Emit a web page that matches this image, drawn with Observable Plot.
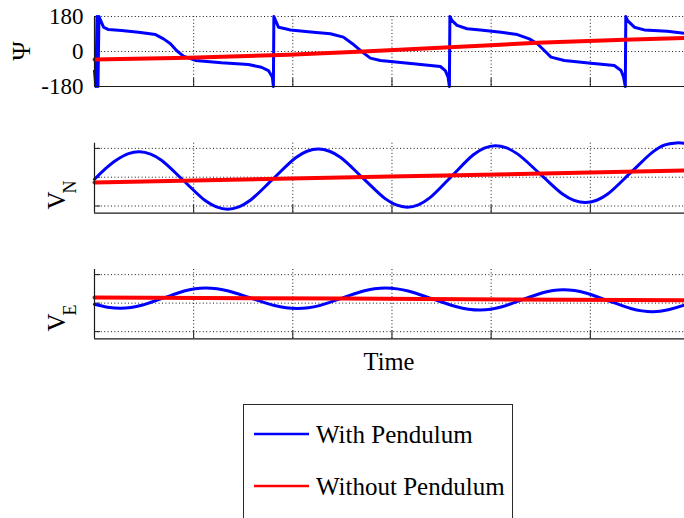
<!DOCTYPE html>
<html>
<head>
<meta charset="utf-8">
<script src="https://cdn.jsdelivr.net/npm/d3@7"></script>
<script src="https://cdn.jsdelivr.net/npm/@observablehq/plot@0.6"></script>
<style>
  html, body { margin: 0; padding: 0; background: #fff; }
  #wrap { position: relative; width: 684px; height: 518px; overflow: hidden; background: #fff; }
  #wrap svg { position: absolute; left: 0; }
  #wrap text, #wrap tspan { font-family: Liberation Serif, "Times New Roman", Tinos, DejaVu Serif, serif !important; }
  #legend { position: absolute; left: 243px; top: 404px; width: 268px; height: 130px;
            border: 1px solid #2a2a2a; background: #fff; }
  #legend svg { position: absolute; left: 0; top: 0; }
</style>
</head>
<body>
<div id="wrap"></div>
<script>
// ---------- data (time in tick units) ----------
const timeTicks = [1, 2, 3, 4, 5];
const psiTicks = [-180, 0, 180];
const psiTickLabels = ["-180", "0", "180"];
const velTicks = [-1, 0, 1];
const seriesNames = ["With Pendulum", "Without Pendulum"];

const psiWithPendulum = [
  [0,-100],[0.015,-180],[0.025,180],[0.035,-180],[0.045,180],[0.091,125],[0.141,113],[0.272,108],
  [0.444,99],[0.615,87],[0.696,65],[0.766,40],[0.827,5],[0.897,-24],[1.018,-46],[1.28,-58],
  [1.552,-67],[1.683,-81],[1.754,-98],[1.794,-132],[1.804,-180],[1.809,180],[1.855,125],[1.925,117],
  [1.976,111],[2.208,99],[2.379,91],[2.51,74],[2.601,40],[2.702,-3],[2.782,-34],[2.883,-46],
  [3.216,-63],[3.488,-77],[3.538,-98],[3.566,-132],[3.579,-180],[3.584,180],[3.606,159],[3.656,134],
  [3.757,117],[3.891,111],[4.1,99],[4.264,87],[4.385,65],[4.466,40],[4.536,5],[4.604,-29],
  [4.738,-46],[5.007,-60],[5.242,-72],[5.31,-98],[5.336,-132],[5.353,-180],[5.358,180],[5.376,159],
  [5.444,125],[5.544,111],[5.776,104],[5.948,94]
];
const psiWithoutPendulum = [
  [0,-41],[0.948,-32],[1.956,-17],[2.712,0],[3.891,29],[4.466,45],[5.343,60],[5.948,70]
];

const vnWithPendulum = [
  [0,-0.07],[0.111,0.30],[0.222,0.60],[0.343,0.82],[0.454,0.88],[0.565,0.80],[0.675,0.59],
  [0.897,-0.115],[1.119,-0.82],[1.23,-1.03],[1.341,-1.11],[1.456,-1.03],[1.571,-0.80],
  [1.799,-0.065],[2.029,0.674],[2.143,0.90],[2.258,0.98],[2.37,0.90],[2.483,0.684],
  [2.707,-0.03],[2.931,-0.744],[3.043,-0.963],[3.155,-1.04],[3.266,-0.959],[3.377,-0.728],
  [3.599,0.025],[3.821,0.778],[3.931,1.009],[4.042,1.09],[4.156,1.015],[4.269,0.801],
  [4.496,0.105],[4.723,-0.591],[4.837,-0.805],[4.95,-0.88],[5.065,-0.801],[5.179,-0.575],
  [5.408,0.16],[5.638,0.895],[5.752,1.121],[5.867,1.19],[5.948,1.18]
];
const vnWithoutPendulum = [[0,-0.18],[2.984,0.02],[5.948,0.23]];

const veWithPendulum = [
  [0,-0.04],[0.131,-0.14],[0.262,-0.18],[0.369,-0.153],[0.476,-0.076],[0.691,0.175],[0.905,0.426],
  [1.012,0.503],[1.119,0.53],[1.235,0.503],[1.351,0.425],[1.583,0.17],[1.815,-0.085],[1.93,-0.163],
  [2.046,-0.19],[2.157,-0.163],[2.268,-0.085],[2.49,0.17],[2.712,0.425],[2.823,0.503],[2.933,0.53],
  [3.053,0.501],[3.173,0.417],[3.412,0.145],[3.652,-0.127],[3.771,-0.211],[3.891,-0.24],
  [3.996,-0.213],[4.1,-0.136],[4.31,0.115],[4.519,0.366],[4.623,0.443],[4.728,0.47],[4.841,0.441],
  [4.955,0.357],[5.181,0.085],[5.408,-0.187],[5.522,-0.271],[5.635,-0.30],[5.786,-0.23],[5.948,-0.07]
];
const veWithoutPendulum = [[0,0.2],[2.48,0.16],[5.948,0.1]];

// ---------- layout ----------
const W = 684, ML = 94, MR = 0;
const plotW = W - ML - MR;
const BLUE = "#0000ff", RED = "#ff0000", INK = "#1a1a1a";
const FONT = 'Liberation Serif, "Times New Roman", Tinos, DejaVu Serif, serif';
const wrap = document.getElementById("wrap");

function panel({top, height, mt, mb, yDomain, yTicks, blue, red, curve, tickLabels}) {
  const plotH = height - mt - mb;
  const marks = [
    Plot.ruleX(timeTicks, {x: d => d, stroke: INK, strokeWidth: 1, strokeDasharray: "1,2.4"}),
    Plot.ruleY(yTicks.filter(d => d !== yDomain[0]), {y: d => d, stroke: INK, strokeWidth: 1, strokeDasharray: "1,2.4"}),
    Plot.ruleX(timeTicks, {x: d => d, stroke: INK, strokeWidth: 1, insetTop: plotH - 8}),
    Plot.ruleY(yTicks, {y: d => d, stroke: INK, strokeWidth: 1, insetRight: plotW - 6}),
    Plot.line(blue, {x: d => d[0], y: d => d[1], stroke: BLUE, strokeWidth: 3, curve}),
    Plot.line(red, {x: d => d[0], y: d => d[1], stroke: RED, strokeWidth: 4, curve: "linear"}),
    Plot.ruleX([0], {x: d => d, stroke: INK, strokeWidth: 1.2}),
    Plot.ruleY([yDomain[0]], {y: d => d, stroke: INK, strokeWidth: 1.2})
  ];
  if (tickLabels) {
    marks.push(Plot.text(yTicks, {y: d => d, text: (d, i) => tickLabels[i], frameAnchor: "left",
      textAnchor: "end", dx: -11, fontSize: 23, fill: "#000"}));
  }
  const svg = Plot.plot({
    width: W, height, marginLeft: ML, marginRight: MR, marginTop: mt, marginBottom: mb,
    x: {domain: [0, 5.95], axis: null},
    y: {domain: yDomain, axis: null},
    style: {fontFamily: FONT, background: "transparent", overflow: "visible"},
    marks
  });
  svg.style.top = top + "px";
  wrap.appendChild(svg);
  return svg;
}

const p1 = panel({top: 0, height: 100, mt: 16, mb: 14, yDomain: [-180, 180], yTicks: psiTicks,
  blue: psiWithPendulum, red: psiWithoutPendulum, curve: "linear", tickLabels: psiTickLabels});
const p2 = panel({top: 130, height: 100, mt: 12.7, mb: 17.3, yDomain: [-1.25, 1.18], yTicks: velTicks,
  blue: vnWithPendulum, red: vnWithoutPendulum, curve: "catmull-rom"});
const p3 = panel({top: 256, height: 130, mt: 13, mb: 47.7, yDomain: [-1.25, 1.18], yTicks: velTicks,
  blue: veWithPendulum, red: veWithoutPendulum, curve: "catmull-rom"});

// y labels (rotated, with subscripts)
d3.select(p1).append("text")
  .attr("transform", "translate(30,51) rotate(-90)")
  .attr("text-anchor", "middle").attr("font-size", 26).attr("fill", "#000")
  .text("Ψ");

function subLabel(svg, x, y, main, sub) {
  const t = d3.select(svg).append("text")
    .attr("transform", `translate(${x},${y}) rotate(-90)`)
    .attr("fill", "#000").attr("font-size", 25);
  t.append("tspan").text(main);
  t.append("tspan").attr("font-size", 18).attr("dy", 11).attr("dx", -2).text(sub);
}
subLabel(p2, 65, 65, "V", "N");
subLabel(p3, 65, 62, "V", "E");

d3.select(p3).append("text")
  .attr("x", ML + plotW / 2).attr("y", 114)
  .attr("text-anchor", "middle").attr("font-size", 24.5).attr("fill", "#000")
  .text("Time");

// legend
const leg = document.createElement("div");
leg.id = "legend";
wrap.appendChild(leg);
const ls = d3.select(leg).append("svg").attr("width", 268).attr("height", 130);
[[BLUE, 29, 38], [RED, 81, 90]].forEach(([c, ly, ty], i) => {
  ls.append("line").attr("x1", 10).attr("x2", 65).attr("y1", ly).attr("y2", ly)
    .attr("stroke", c).attr("stroke-width", 2.5);
  ls.append("text").attr("x", 72).attr("y", ty).attr("font-size", 25)
    .attr("fill", "#000").text(seriesNames[i]);
});
</script>
</body>
</html>
